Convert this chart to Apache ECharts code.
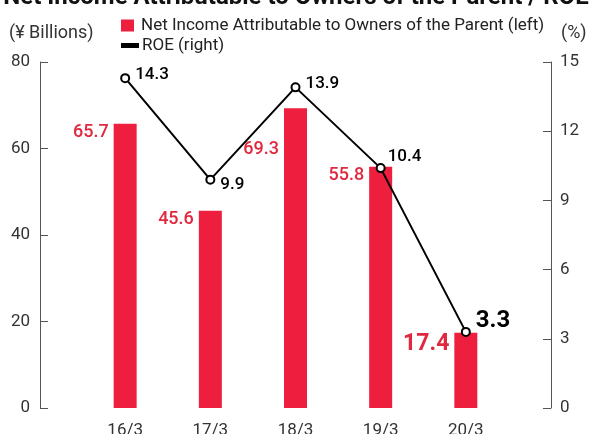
<!DOCTYPE html>
<html>
<head>
<meta charset="utf-8">
<script src="https://cdn.jsdelivr.net/npm/echarts@6/dist/echarts.min.js"></script>
<style>
  html, body { margin: 0; padding: 0; background: #fff; }
  #chart { width: 592px; height: 434px; }
</style>
</head>
<body>
<div id="chart"></div>
<script>
// Fiscal years (year/month of fiscal year end)
const categories = ['16/3', '17/3', '18/3', '19/3', '20/3'];
// Net income attributable to owners of the parent, ¥ billions
const netIncome = [65.7, 45.6, 69.3, 55.8, 17.4];
// Return on equity, %
const roe = [14.3, 9.9, 13.9, 10.4, 3.3];
// Axis tick values
const leftTicks = [0, 20, 40, 60, 80];
const rightTicks = [0, 3, 6, 9, 12, 15];

const FONT = 'Roboto, "Liberation Sans", sans-serif';
const RED = '#EE1F3E';
const LABEL_RED = '#E0283F';

// Pad the category axis with empty slots at both ends so the
// axis lines sit half a step outside the first and last years.
const xCats = [''].concat(categories, ['']);
const pad = (arr) => [null].concat(arr, [null]);

const lastIdx = categories.length - 1;

// Bar label nudges (the 18/3 label drops below the ROE line)
const barOffsets = [[0, 0], [0, 0], [0, 32], [0, 0], [0, 0]];
const barData = pad(netIncome.map((v, i) => {
  const last = i === lastIdx;
  return {
    value: v,
    label: {
      offset: barOffsets[i],
      fontSize: last ? 23 : 18,
      fontWeight: last ? 'bold' : 500
    }
  };
}));

// Per-point label offsets for the ROE line
const roeOffsets = [[0, -3], [0, 5], [0, -4], [-3, -11], [0, -11]];
const lineData = pad(roe.map((v, i) => {
  const last = i === lastIdx;
  return {
    value: v,
    label: {
      offset: roeOffsets[i],
      fontSize: last ? 24 : 17,
      fontWeight: last ? 'bold' : 500
    }
  };
}));

const chart = echarts.init(document.getElementById('chart'));
chart.setOption({
  animation: false,
  textStyle: { fontFamily: FONT },
  graphic: [{
    type: 'text',
    left: 'center',
    top: -14,
    style: {
      text: 'Net Income Attributable to Owners of the Parent / ROE',
      font: 'bold 24px ' + FONT,
      fill: '#111'
    }
  }],
  legend: [{
    data: ['Net Income Attributable to Owners of the Parent (left)'],
    left: 116,
    top: 12,
    icon: 'rect',
    itemWidth: 13,
    itemHeight: 12,
    itemGap: 6,
    textStyle: { fontSize: 17, color: '#222', fontFamily: FONT, padding: [0, 0, 0, 2] }
  }, {
    data: ['ROE (right)'],
    left: 116,
    top: 32,
    icon: 'rect',
    itemWidth: 16,
    itemHeight: 3,
    itemGap: 6,
    itemStyle: { color: '#000' },
    textStyle: { fontSize: 17, color: '#222', fontFamily: FONT, padding: [0, 0, 0, -1] }
  }],
  grid: { left: 40, right: 41, top: 62, bottom: 26, containLabel: false, outerBoundsMode: 'none' },
  xAxis: {
    type: 'category',
    data: xCats,
    boundaryGap: false,
    axisLine: { show: false },
    axisTick: { show: false },
    axisLabel: { fontSize: 17, color: '#333', margin: 14, interval: 0 }
  },
  yAxis: [{
    type: 'value',
    min: 0, max: 80, interval: 20,
    name: '(¥ Billions)',
    nameLocation: 'end',
    nameGap: 20,
    nameTextStyle: { fontSize: 18, color: '#333', align: 'left', padding: [0, 0, 0, -31] },
    axisLine: { show: true, lineStyle: { color: '#555', width: 1 } },
    axisTick: { show: true, inside: true, length: 8, lineStyle: { color: '#555' } },
    axisLabel: { fontSize: 17, color: '#333', margin: 10 },
    splitLine: { show: false }
  }, {
    type: 'value',
    min: 0, max: 15, interval: 3,
    name: '(%)',
    nameLocation: 'end',
    nameGap: 20,
    nameTextStyle: { fontSize: 18, color: '#333', align: 'left', padding: [0, 0, 0, 10] },
    axisLine: { show: true, lineStyle: { color: '#555', width: 1 } },
    axisTick: { show: true, inside: true, length: 8, lineStyle: { color: '#555' } },
    axisLabel: { fontSize: 17, color: '#333', margin: 9 },
    splitLine: { show: false }
  }],
  series: [{
    name: 'Net Income Attributable to Owners of the Parent (left)',
    type: 'bar',
    yAxisIndex: 0,
    data: barData,
    barWidth: 23,
    itemStyle: { color: RED },
    label: {
      show: true,
      position: [-5, 0],
      align: 'right',
      verticalAlign: 'top',
      color: LABEL_RED,
      fontFamily: FONT
    },
    z: 1
  }, {
    name: 'ROE (right)',
    type: 'line',
    yAxisIndex: 1,
    data: lineData,
    connectNulls: true,
    symbol: 'circle',
    symbolSize: 8,
    showAllSymbol: true,
    lineStyle: { color: '#000', width: 2 },
    itemStyle: { color: '#fff', borderColor: '#000', borderWidth: 2 },
    label: {
      show: true,
      position: 'right',
      distance: 5,
      color: '#000',
      fontFamily: FONT
    },
    z: 3
  }]
});
</script>
</body>
</html>
